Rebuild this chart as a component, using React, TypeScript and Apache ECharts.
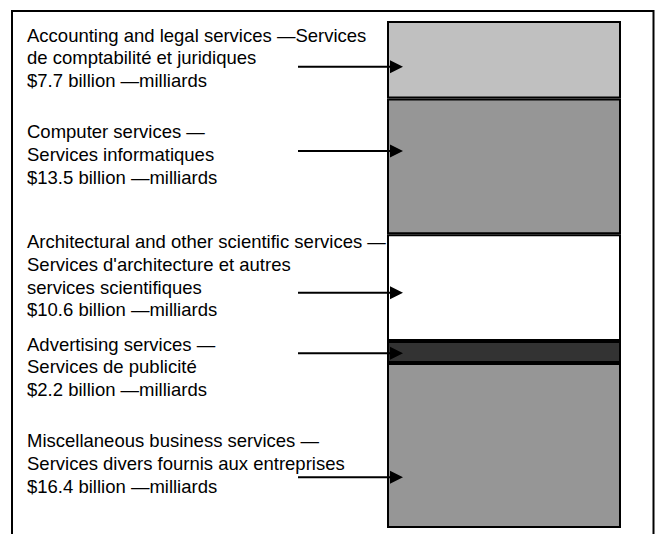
import React, { useEffect, useRef } from "react";
import * as echarts from "echarts";

// Segments listed top to bottom, as in the picture
const englishNames = [
  "Accounting and legal services",
  "Computer services",
  "Architectural and other scientific services",
  "Advertising services",
  "Miscellaneous business services",
];
const frenchLines = [
  ["Services", "de comptabilité et juridiques"],
  ["", "Services informatiques"],
  ["", "Services d'architecture et autres", "services scientifiques"],
  ["", "Services de publicité"],
  ["", "Services divers fournis aux entreprises"],
];
const valuesBillions = [7.7, 13.5, 10.6, 2.2, 16.4];
const segmentColors = ["#c0c0c0", "#969696", "#ffffff", "#333333", "#969696"];

// annotation layout (pixels)
const labelTops = [23.7, 120.4, 230.4, 332.7, 429.4];
const arrowYs = [66.7, 151, 292.7, 353.3, 477.3];

const FONT = "'Liberation Sans', Arial, sans-serif";

function labelText(i: number): string {
  const fr = frenchLines[i];
  const first = englishNames[i] + " \u2014" + fr[0];
  const rest = fr.slice(1);
  return [first, ...rest, `$${valuesBillions[i]} billion \u2014milliards`].join("\n");
}

export default function App() {
  const ref = useRef<HTMLDivElement>(null);
  useEffect(() => {
    if (!ref.current) return;
    const chart = echarts.init(ref.current, null, { renderer: "svg" });
    const total = valuesBillions.reduce((a, b) => a + b, 0);
    const order = [...valuesBillions.keys()].reverse();
    const series = order.map((i) => ({
      type: "bar" as const,
      name: englishNames[i],
      stack: "total",
      barWidth: "100%",
      data: [valuesBillions[i]],
      itemStyle: { color: segmentColors[i], borderColor: "#000", borderWidth: 2 },
    }));
    const graphic: any[] = [
      {
        type: "rect",
        shape: { x: 12, y: 11, width: 641.5, height: 600 },
        style: { fill: "none", stroke: "#000", lineWidth: 2 },
        z: 1,
      },
    ];
    englishNames.forEach((_, i) => {
      graphic.push({
        type: "text",
        x: 27,
        y: labelTops[i],
        z: 50,
        style: {
          text: labelText(i),
          font: `18.5px ${FONT}`,
          fill: "#000",
          lineHeight: 22.7,
          verticalAlign: "top",
          align: "left",
        },
      });
      const y = arrowYs[i];
      graphic.push({
        type: "line",
        z: 100,
        shape: { x1: 298, y1: y, x2: 392, y2: y },
        style: { stroke: "#000", lineWidth: 2 },
      });
      graphic.push({
        type: "polygon",
        z: 100,
        shape: { points: [[390, y - 6.5], [403, y], [390, y + 6.5]] },
        style: { fill: "#000" },
      });
    });
    chart.setOption({
      animation: false,
      grid: { left: 387, right: 39, top: 21, bottom: 6, containLabel: false },
      xAxis: {
        type: "category",
        data: ["total"],
        show: false,
      },
      yAxis: {
        type: "value",
        min: 0,
        max: total,
        show: false,
      },
      series,
      graphic,
    });
    return () => chart.dispose();
  }, []);
  return <div ref={ref} style={{ width: 660, height: 534, position: "absolute", left: 0, top: 0, background: "#fff" }} />;
}
